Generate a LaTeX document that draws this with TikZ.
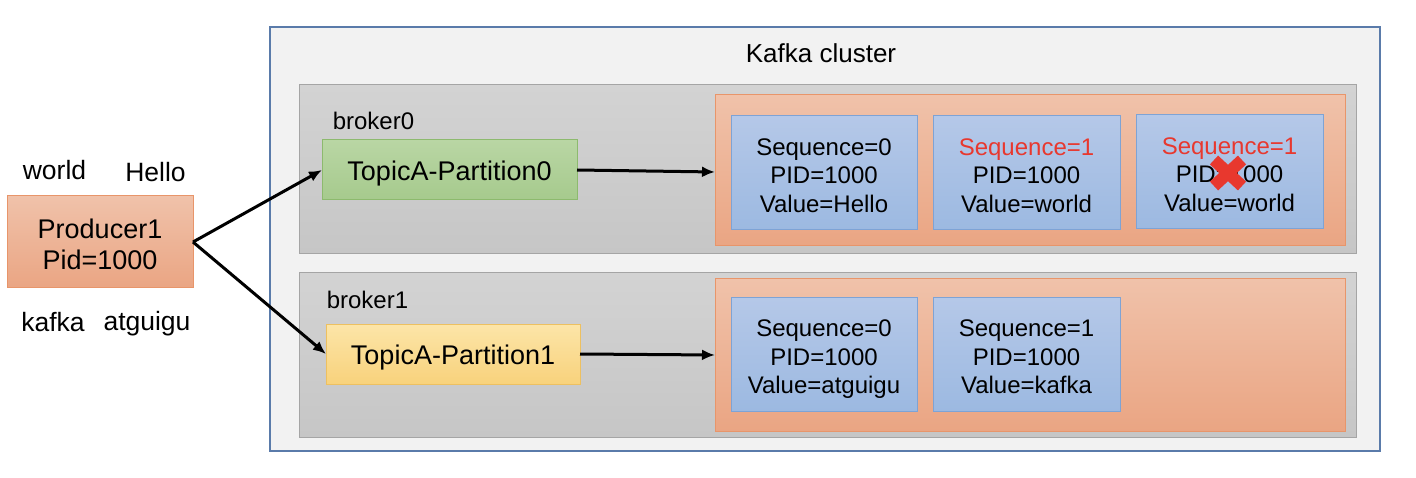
\documentclass[tikz,border=0pt]{standalone}
\usepackage{fontspec}
\setmainfont{Liberation Sans}
\usetikzlibrary{arrows.meta}
\definecolor{clfill}{HTML}{F2F2F2}
\definecolor{cldraw}{HTML}{5A7BAA}
\definecolor{brtop}{HTML}{D3D3D3}
\definecolor{brbot}{HTML}{C6C6C6}
\definecolor{brdraw}{HTML}{A5A5A5}
\definecolor{ortop}{HTML}{F0C2AA}
\definecolor{orbot}{HTML}{EAA583}
\definecolor{ordraw}{HTML}{E8956A}
\definecolor{bltop}{HTML}{B5C8E8}
\definecolor{blbot}{HTML}{9CB9E1}
\definecolor{bldraw}{HTML}{7EA3D5}
\definecolor{grtop}{HTML}{B9D6A4}
\definecolor{grbot}{HTML}{A6CA8D}
\definecolor{grdraw}{HTML}{8DBA6E}
\definecolor{yetop}{HTML}{FCE5A8}
\definecolor{yebot}{HTML}{F8D27C}
\definecolor{yedraw}{HTML}{EDC060}
\definecolor{redtxt}{HTML}{E8382E}
\tikzset{
  box/.style={rectangle, inner sep=0pt, outer sep=0pt, line width=1pt, align=center},
  clusterbox/.style={box, fill=clfill, draw=cldraw, line width=1.6pt},
  brokerbox/.style={box, top color=brtop, bottom color=brbot, draw=brdraw},
  logbox/.style={box, top color=ortop, bottom color=orbot, draw=ordraw},
  msgbox/.style={box, top color=bltop, bottom color=blbot, draw=bldraw},
  msgtxt/.style={label={[inner sep=0pt, align=center, yshift=-6.5pt, font=\fontsize{24}{28.5}\selectfont]center:#1\strut}},
  partgreen/.style={box, top color=grtop, bottom color=grbot, draw=grdraw},
  partyellow/.style={box, top color=yetop, bottom color=yebot, draw=yedraw},
  parttxt/.style={label={[inner sep=0pt, yshift=-4pt, font=\fontsize{27}{32}\selectfont]center:#1}},
  prodbox/.style={box, top color=ortop, bottom color=orbot, draw=ordraw},
  prodtxt/.style={label={[inner sep=0pt, align=center, yshift=-2pt, font=\fontsize{27}{31}\selectfont]center:#1}},
  lbl/.style={inner sep=0pt, font=\fontsize{24}{28}\selectfont},
  word/.style={inner sep=0pt, font=\fontsize{26.5}{30}\selectfont},
  arr/.style={line width=3pt, -{Latex[length=13pt,width=11pt]}},
  redx/.style={line width=12pt, draw=redtxt}
}
\begin{document}
\begin{tikzpicture}[x=1pt,y=-1pt]
\useasboundingbox (0,0) rectangle (1416,478);
% cluster
\node[clusterbox, minimum width=1110pt, minimum height=424pt] (cluster) at (825,239) {};
\node[lbl, font=\fontsize{26}{30}\selectfont] (ctitle) at (821,53) {Kafka cluster};
% brokers
\node[brokerbox, minimum width=1057pt, minimum height=169pt] (b0) at (827.5,169.5) {};
\node[brokerbox, minimum width=1057pt, minimum height=164pt] (b1) at (827.5,355) {};
\node[lbl] (b0l) at (373.5,121) {broker0};
\node[lbl] (b1l) at (367.5,300) {broker1};
% partitions
\node[partgreen, minimum width=255pt, minimum height=60pt, parttxt={TopicA-Partition0}] (p0) at (449.5,170) {};
\node[partyellow, minimum width=254pt, minimum height=60pt, parttxt={TopicA-Partition1}] (p1) at (453,354) {};
% logs
\node[logbox, minimum width=630pt, minimum height=151pt] (l0) at (1030,170.5) {};
\node[logbox, minimum width=630pt, minimum height=152pt] (l1) at (1030,355) {};
% messages broker0
\node[msgbox, minimum width=186pt, minimum height=114pt, msgtxt={Sequence=0\\PID=1000\\Value=Hello}] (m00) at (824,173) {};
\node[msgbox, minimum width=187pt, minimum height=114pt, msgtxt={\textcolor{redtxt}{Sequence=1}\\PID=1000\\Value=world}] (m01) at (1026.5,173) {};
\node[msgbox, minimum width=187pt, minimum height=114pt, msgtxt={\textcolor{redtxt}{Sequence=1}\\PID=1000\\Value=world}] (m02) at (1229.5,172) {};
% messages broker1
\node[msgbox, minimum width=186pt, minimum height=113pt, msgtxt={Sequence=0\\PID=1000\\Value=atguigu}] (m10) at (824,354.5) {};
\node[msgbox, minimum width=187pt, minimum height=113pt, msgtxt={Sequence=1\\PID=1000\\Value=kafka}] (m11) at (1026.5,354.5) {};
% red cross
\coordinate (xc) at (1228,173);
\draw[redx] ([shift={(-14,-13)}]xc) -- ([shift={(14,13)}]xc);
\draw[redx] ([shift={(14,-13)}]xc) -- ([shift={(-14,13)}]xc);
% producer
\node[prodbox, minimum width=186pt, minimum height=92pt, prodtxt={Producer1\\Pid=1000}] (prod) at (100,242) {};
\node[word] (w1) at (54.5,170) {world};
\node[word] (w2) at (155.5,172) {Hello};
\node[word] (w3) at (53,322) {kafka};
\node[word] (w4) at (147,324) {atguigu};
% arrows
\draw[arr] (prod.east) -- (p0.west);
\draw[arr] (prod.east) -- (p1.west);
\draw[arr] (p0.east) -- (l0.west |- 0,172);
\draw[arr] (p1.east) -- (l1.west |- 0,355);
\end{tikzpicture}
\end{document}
